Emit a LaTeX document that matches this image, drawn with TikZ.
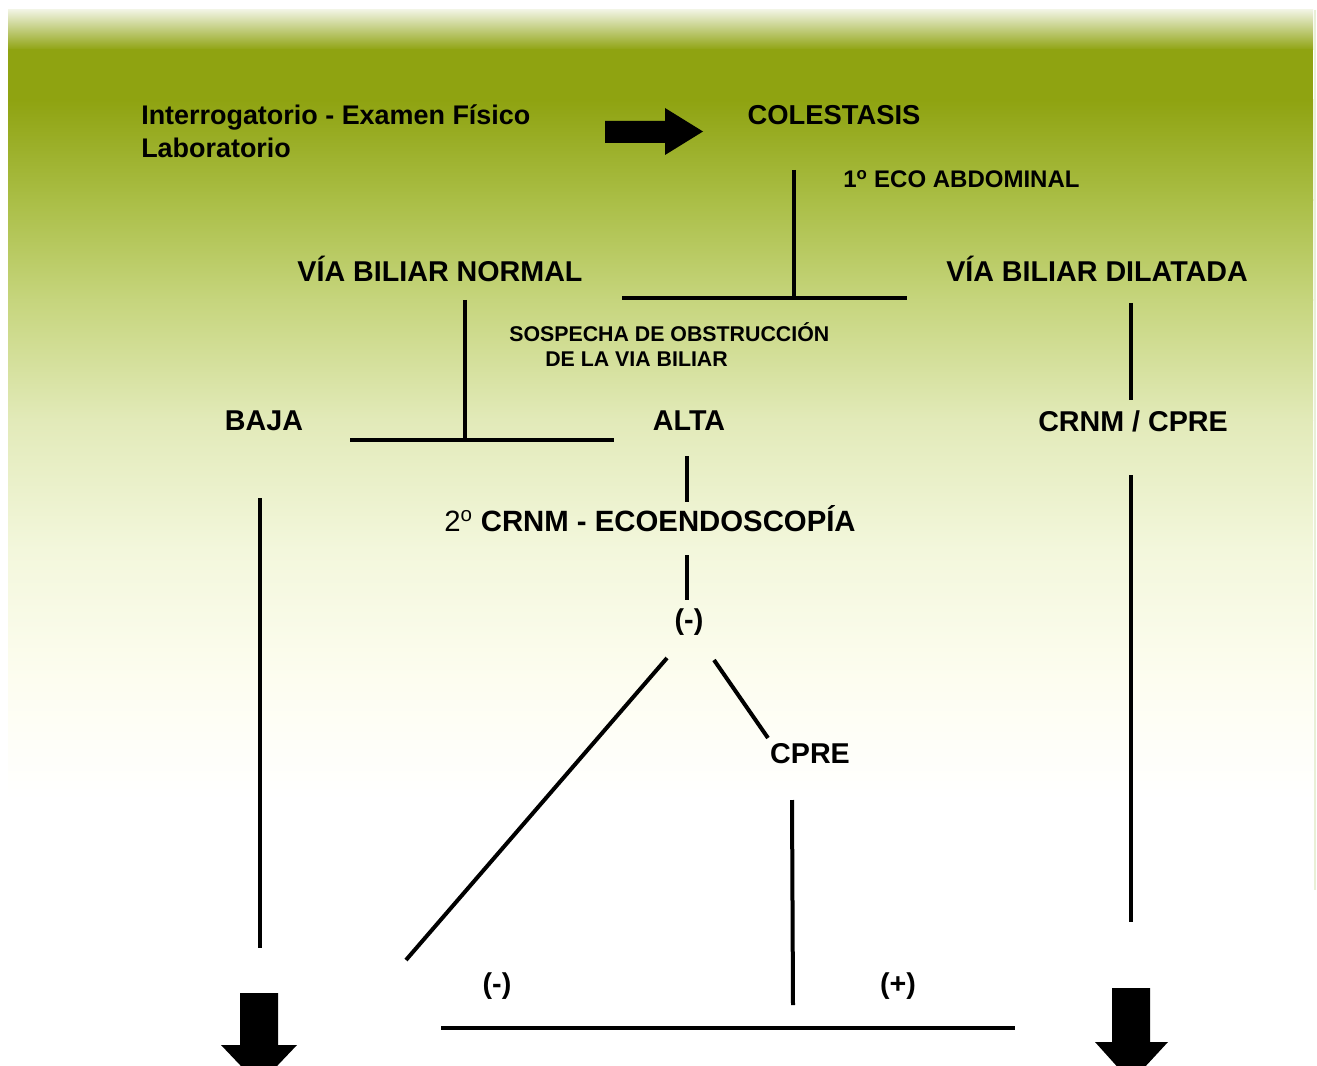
\documentclass[tikz,border=0pt]{standalone}
\usepackage{fontspec}
\setmainfont{Liberation Sans}
\usetikzlibrary{positioning}

\definecolor{oliveTop}{RGB}{143,163,17}
\definecolor{oliveA}{RGB}{170,190,70}
\definecolor{oliveB}{RGB}{198,213,125}
\definecolor{oliveC}{RGB}{226,234,185}
\definecolor{oliveD}{RGB}{243,247,220}
\definecolor{oliveE}{RGB}{253,253,240}
\definecolor{fadeTop}{RGB}{240,243,225}
\definecolor{edgeLine}{RGB}{232,240,215}

\tikzset{
  lbl/.style={font=\bfseries\fontsize{21.5}{25}\selectfont, inner sep=0pt},
  leftlbl/.style={font=\bfseries\fontsize{20.2}{24.5}\selectfont, inner sep=0pt},
  smalllbl/.style={font=\bfseries\fontsize{18}{21}\selectfont, inner sep=0pt},
  tinylbl/.style={font=\bfseries\fontsize{16}{20}\selectfont, inner sep=0pt},
  conn/.style={line width=3pt},
  blockarrow/.style={fill=black, draw=none}
}

\begin{document}
\begin{tikzpicture}[x=0.75pt, y=-0.75pt]

\clip (0,0) rectangle (1317,1066);
\useasboundingbox (0,0) rectangle (1317,1066);
\fill[white] (0,0) rectangle (1317,1066);

% Background panel
\shade[top color=fadeTop, bottom color=oliveTop] (8,10) rectangle (1313,50);
\fill[oliveTop] (8,49.5) rectangle (1313,100.5);
\shade[top color=oliveTop, bottom color=oliveA] (8,100) rectangle (1313,200.5);
\shade[top color=oliveA, bottom color=oliveB] (8,200) rectangle (1313,300.5);
\shade[top color=oliveB, bottom color=oliveC] (8,300) rectangle (1313,420.5);
\shade[top color=oliveC, bottom color=oliveD] (8,420) rectangle (1313,550.5);
\shade[top color=oliveD, bottom color=oliveE] (8,550) rectangle (1313,680.5);
\shade[top color=oliveE, bottom color=white] (8,680) rectangle (1313,800);
\draw[edgeLine, line width=1.5pt] (1315,10) -- (1315,890);

% Labels
\node[leftlbl, anchor=west, align=left] (interrog) at (141,131)
  {Interrogatorio - Examen Físico\\Laboratorio};
\node[lbl, font=\bfseries\fontsize{20.5}{25}\selectfont] (colestasis) at (834,115) {COLESTASIS};
\node[smalllbl, anchor=west] (eco) at (843,179) {1\textsuperscript{o} ECO ABDOMINAL};
\node[lbl] (normal) at (440,269) {VÍA BILIAR NORMAL};
\node[lbl] (dilatada) at (1097,269) {VÍA BILIAR DILATADA};
\node[tinylbl, anchor=west] (sospecha) at (509,332) {SOSPECHA DE OBSTRUCCIÓN};
\node[tinylbl, anchor=west] (vialbl) at (545,359) {DE LA VIA BILIAR};
\node[lbl] (baja) at (264,421) {BAJA};
\node[lbl] (alta) at (689,421) {ALTA};
\node[lbl] (crnmcpre) at (1133,421) {CRNM / CPRE};
\node[lbl, font=\bfseries\fontsize{22}{25}\selectfont] (crnm) at (650,519)
  {\mdseries 2\textsuperscript{o} \bfseries CRNM - ECOENDOSCOPÍA};
\node[lbl] (neg1) at (689,622) {(-)};
\node[lbl] (cpre) at (810,754) {CPRE};
\node[lbl] (neg2) at (497,986) {(-)};
\node[lbl] (pos) at (898,986) {(+)};

% Junction points
\coordinate (ecoTop) at (794,170);
\coordinate (ecoBot) at (794,298);
\coordinate (splitL) at (622,298);
\coordinate (splitR) at (907,298);
\coordinate (vbnTop) at (465,300);
\coordinate (vbnBot) at (465,440);
\coordinate (levelL) at (350,440);
\coordinate (levelR) at (614,440);
\coordinate (dilTop) at (1131,303);
\coordinate (dilBot) at (1131,400);
\coordinate (altaTop) at (687,456);
\coordinate (altaBot) at (687,502);
\coordinate (crnmTop) at (687,555);
\coordinate (crnmBot) at (687,600);
\coordinate (negA) at (667,658);
\coordinate (negB) at (406,960);
\coordinate (cpreA) at (714,660);
\coordinate (cpreB) at (768,738);
\coordinate (cpreC) at (792,800);
\coordinate (cpreD) at (793,1005);
\coordinate (endL) at (441,1028);
\coordinate (endR) at (1015,1028);
\coordinate (bajaTop) at (260,498);
\coordinate (bajaBot) at (260,948);
\coordinate (crTop) at (1131,475);
\coordinate (crBot) at (1131,922);

% Connectors
\draw[conn] (ecoTop) -- (ecoBot);
\draw[conn] (splitL) -- (splitR);
\draw[conn] (vbnTop) -- (vbnBot);
\draw[conn] (levelL) -- (levelR);
\draw[conn] (dilTop) -- (dilBot);
\draw[conn] (altaTop) -- (altaBot);
\draw[conn] (crnmTop) -- (crnmBot);
\draw[conn] (negA) -- (negB);
\draw[conn] (cpreA) -- (cpreB);
\draw[conn] (cpreC) -- (cpreD);
\draw[conn] (endL) -- (endR);
\draw[conn] (bajaTop) -- (bajaBot);
\draw[conn] (crTop) -- (crBot);

% Block arrows
\fill[blockarrow] (605,121) -- (665,121) -- (665,108) -- (703,131.5)
  -- (665,155) -- (665,143) -- (605,143) -- cycle;
\fill[blockarrow] (240,993) -- (278,993) -- (278,1045) -- (297,1045)
  -- (259,1085) -- (221,1045) -- (240,1045) -- cycle;
\fill[blockarrow] (1112,988) -- (1150,988) -- (1150,1042) -- (1168,1042)
  -- (1131,1082) -- (1095,1042) -- (1112,1042) -- cycle;

\end{tikzpicture}
\end{document}
